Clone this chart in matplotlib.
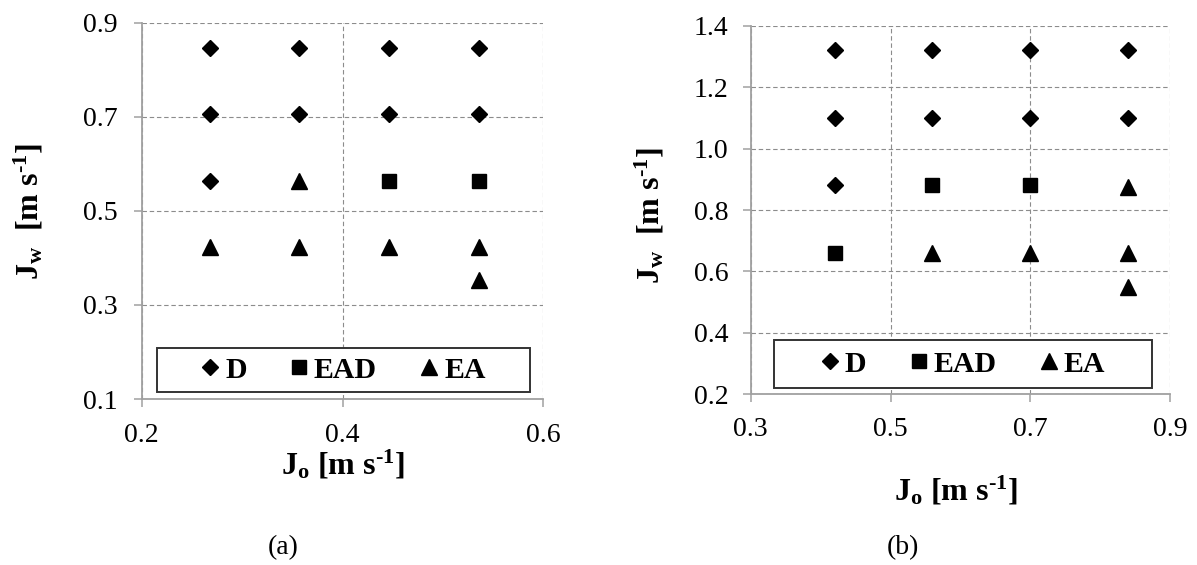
import matplotlib
matplotlib.use("Agg")
import matplotlib.pyplot as plt
from matplotlib.patches import Rectangle

plt.rcParams['font.family'] = ['Liberation Serif', 'DejaVu Serif']
plt.rcParams['mathtext.fontset'] = 'custom'
plt.rcParams['mathtext.rm'] = 'Liberation Serif:bold'
plt.rcParams['mathtext.bf'] = 'Liberation Serif:bold'
plt.rcParams['mathtext.it'] = 'Liberation Serif:bold'

# (a) flow regime map, smaller pipe
a_d_jo = [0.268, 0.357, 0.446, 0.536, 0.268, 0.357, 0.446, 0.536, 0.268]
a_d_jw = [0.846, 0.846, 0.846, 0.846, 0.705, 0.705, 0.705, 0.705, 0.564]
a_ead_jo = [0.446, 0.536]
a_ead_jw = [0.564, 0.564]
a_ea_jo = [0.357, 0.268, 0.357, 0.446, 0.536, 0.536]
a_ea_jw = [0.564, 0.423, 0.423, 0.423, 0.423, 0.3525]

# (b) flow regime map, larger velocities
b_d_jo = [0.42, 0.56, 0.70, 0.84, 0.42, 0.56, 0.70, 0.84, 0.42]
b_d_jw = [1.32, 1.32, 1.32, 1.32, 1.10, 1.10, 1.10, 1.10, 0.88]
b_ead_jo = [0.56, 0.70, 0.42]
b_ead_jw = [0.88, 0.88, 0.66]
b_ea_jo = [0.84, 0.56, 0.70, 0.84, 0.84]
b_ea_jw = [0.875, 0.66, 0.66, 0.66, 0.55]

a_xticks = [0.2, 0.4, 0.6]
a_yticks = [0.1, 0.3, 0.5, 0.7, 0.9]
b_xticks = [0.3, 0.5, 0.7, 0.9]
b_yticks = [0.2, 0.4, 0.6, 0.8, 1.0, 1.2, 1.4]

xlab = r'J$_{\mathrm{o}}$ [m s$^{\text{-1}}$]'
ylab = r'J$_{\mathrm{w}}$  [m s$^{\text{-1}}$]'

fig = plt.figure(figsize=(11.97, 5.65), dpi=100)
ax1 = fig.add_axes([0.1184, 0.2938, 0.3355, 0.6660])
ax2 = fig.add_axes([0.6272, 0.3021, 0.3503, 0.6524])


def style(ax, xticks, yticks, tick_pad):
    ax.set_xlim(xticks[0], xticks[-1])
    ax.set_ylim(yticks[0], yticks[-1])
    ax.set_xticks(xticks)
    ax.set_yticks(yticks)
    ax.set_xticklabels(['%.1f' % t for t in xticks])
    ax.set_yticklabels(['%.1f' % t for t in yticks])
    ax.grid(True, color='#8c8c8c', linewidth=0.8, linestyle=(0, (4, 2.5)))
    ax.set_axisbelow(True)
    for s in ['top', 'right']:
        ax.spines[s].set_visible(False)
    for s in ['left', 'bottom']:
        ax.spines[s].set_color('#a0a0a0')
        ax.spines[s].set_linewidth(1.3)
    ax.tick_params(length=6, width=1.1, color='#a0a0a0', labelsize=20,
                   pad=tick_pad, labelcolor='black')


def draw(ax, d, ead, ea):
    ax.plot(d[0], d[1], 'D', color='black', markersize=8.4, linestyle='none',
            label='D', clip_on=False, zorder=3)
    ax.plot(ead[0], ead[1], 's', color='black', markersize=10.5,
            linestyle='none', label='EAD', clip_on=False, zorder=3)
    ax.plot(ea[0], ea[1], '^', color='black', markersize=11.5,
            linestyle='none', label='EA', clip_on=False, zorder=3)


def legend_box(ax, x0, y0, x1, y1):
    # white framed box behind the legend entries
    ax.add_patch(Rectangle((x0, y0), x1 - x0, y1 - y0, transform=ax.transAxes,
                           facecolor='white', edgecolor='#333333',
                           linewidth=1.4, zorder=4))
    ax.legend(loc='center', bbox_to_anchor=((x0 + x1) / 2, (y0 + y1) / 2),
              ncol=3, frameon=False, handlelength=0.6, handletextpad=0.2,
              columnspacing=1.45, borderaxespad=0,
              prop={'family': 'Liberation Serif', 'weight': 'bold', 'size': 21.5})


style(ax1, a_xticks, a_yticks, 11)
draw(ax1, (a_d_jo, a_d_jw), (a_ead_jo, a_ead_jw), (a_ea_jo, a_ea_jw))
legend_box(ax1, 0.038, 0.0186, 0.967, 0.1355)
ax1.set_xlabel(xlab, fontsize=23, fontweight='bold', va='center')
ax1.set_ylabel(ylab, fontsize=23, fontweight='bold', va='center')
ax1.xaxis.set_label_coords(0.501, -0.175)
ax1.yaxis.set_label_coords(-0.281, 0.497)

style(ax2, b_xticks, b_yticks, 10)
draw(ax2, (b_d_jo, b_d_jw), (b_ead_jo, b_ead_jw), (b_ea_jo, b_ea_jw))
legend_box(ax2, 0.0556, 0.017, 0.957, 0.147)
ax2.set_xlabel(xlab, fontsize=23, fontweight='bold', va='center')
ax2.set_ylabel(ylab, fontsize=23, fontweight='bold', va='center')
ax2.xaxis.set_label_coords(0.49, -0.262)
ax2.yaxis.set_label_coords(-0.24, 0.484)

fig.text(0.2364, 0.030, '(a)', fontsize=20, ha='center', va='center')
fig.text(0.754, 0.030, '(b)', fontsize=20, ha='center', va='center')

fig.savefig('out.png', dpi=100, facecolor='white')
